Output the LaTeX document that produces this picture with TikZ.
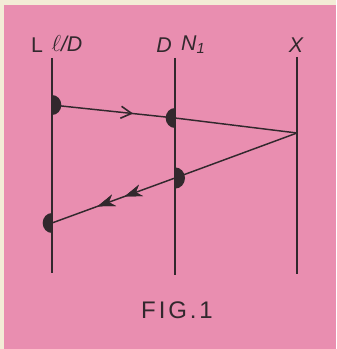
\documentclass[tikz,border=0pt]{standalone}
\usepackage{fontspec}
\usetikzlibrary{arrows.meta,decorations.markings}
\newfontfamily\capfont[LetterSpace=12]{Liberation Sans}
\newfontfamily\lblfont{Liberation Sans}
\definecolor{paper}{RGB}{243,236,214}
\definecolor{pinkbg}{RGB}{233,142,176}
\definecolor{ink}{RGB}{50,40,45}
\tikzset{
  vline/.style={draw=ink, line width=0.9pt},
  ray/.style={draw=ink, line width=1.1pt},
  lbl/.style={text=ink, inner sep=0pt, font=\lblfont\itshape\fontsize{16}{18}\selectfont},
  halfdisc/.style={fill=ink},
  openarrow/.style={postaction={decorate}, decoration={markings,
     mark=at position #1 with {\arrow[ink, line width=1.2pt]{Straight Barb[length=8pt, width=9pt]}}}},
  fillarrow/.style={postaction={decorate}, decoration={markings,
     mark=at position #1 with {\arrow[ink]{Stealth[length=13pt, width=9pt, inset=4pt]}}}}
}
\begin{document}
\begin{tikzpicture}[x=0.75pt,y=0.75pt]
\useasboundingbox (0,0) rectangle (336,349);
\fill[paper] (0,0) rectangle (336,349);
\fill[pinkbg] (4,0) rectangle (336,344);
% vertical lines
\coordinate (Ltop) at (52,291); \coordinate (Lbot) at (52,76);
\coordinate (Dtop) at (175,291); \coordinate (Dbot) at (175,74);
\coordinate (Xtop) at (297,292); \coordinate (Xbot) at (297,75);
\draw[vline] (Ltop) -- (Lbot);
\draw[vline] (Dtop) -- (Dbot);
\draw[vline] (Xtop) -- (Xbot);
% points
\coordinate (A) at (52,244);
\coordinate (B) at (175,231);
\coordinate (C) at (297,216);
\coordinate (E) at (175,171);
\coordinate (F) at (52,126);
% rays
\draw[ray, openarrow=0.66] (A) -- (B);
\draw[ray] (B) -- (C);
\draw[ray] (C) -- (E);
\draw[ray, fillarrow=0.41, fillarrow=0.63] (E) -- (F);
% half discs
\fill[halfdisc] ([yshift=7.5pt]A) arc[start angle=90, end angle=-90, x radius=7pt, y radius=7.5pt] -- cycle;
\fill[halfdisc] ([yshift=7.5pt]B) arc[start angle=90, end angle=270, x radius=7pt, y radius=7.5pt] -- cycle;
\fill[halfdisc] ([yshift=8pt]E) arc[start angle=90, end angle=-90, x radius=7.5pt, y radius=8pt] -- cycle;
\fill[halfdisc] ([yshift=7.5pt]F) arc[start angle=90, end angle=270, x radius=7pt, y radius=7.5pt] -- cycle;
% labels
\node[lbl, font=\lblfont\fontsize{16}{18}\selectfont] (tL) at (37,304) {L};
\node[lbl] (tlD) at (67,305) {$\ell$/D};
\node[lbl] (tD) at (164,304) {D};
\node[lbl] (tN) at (193,304) {N\raisebox{-2pt}{\fontsize{11}{12}\selectfont 1}};
\node[lbl] (tX) at (296,304) {X};
\node[text=ink, inner sep=0pt, font=\capfont\fontsize{18}{20}\selectfont] (cap) at (177,39) {FIG.1};
\end{tikzpicture}
\end{document}
